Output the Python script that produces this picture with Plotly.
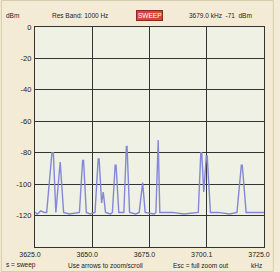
import plotly.graph_objects as go

# Spectrum trace (kHz, dBm)
freq_khz = [3625.0, 3626.0, 3627.5, 3629.0,
            3630.1, 3632.4, 3633.0, 3634.1,
            3636.0, 3637.5,
            3640.0, 3643.0,
            3644.4, 3645.8, 3646.2, 3647.4,
            3649.0,
            3651.2, 3652.6, 3653.0, 3654.1, 3654.8, 3655.8,
            3658.0,
            3658.8, 3660.0, 3660.4, 3661.6,
            3663.0,
            3663.8, 3664.9, 3665.2, 3666.3,
            3669.0,
            3670.5, 3671.7, 3672.0, 3673.1,
            3677.0,
            3677.8, 3678.5, 3678.8, 3679.5,
            3685.0, 3690.0,
            3696.3, 3697.4, 3697.8, 3698.7, 3699.8, 3700.2, 3701.6,
            3705.0, 3710.0,
            3713.2, 3715.1, 3715.5, 3717.2,
            3720.0, 3725.0]
power_dbm = [-118, -119, -117, -118,
             -118, -80, -80, -118,
             -86, -118,
             -119, -118,
             -118, -85, -85, -118,
             -119,
             -118, -84, -84, -112, -105, -118,
             -119,
             -118, -88, -88, -118,
             -118,
             -118, -76, -76, -118,
             -119,
             -118, -99, -99, -118,
             -119,
             -118, -72, -72, -118,
             -118, -119,
             -118, -80, -80, -105, -82, -82, -118,
             -118, -119,
             -118, -88, -88, -118,
             -118, -118]

x_tick_vals = [3625, 3650, 3675, 3700, 3725]
x_tick_text = ["3625.0", "3650.0", "3675.0", "3700.1", "3725.0"]
y_tick_vals = [0, -20, -40, -60, -80, -100, -120]
y_tick_text = ["0", "-20", "-40", "-60", "-80", "-100", "-120"]

FONT = "Liberation Sans Narrow, Arial Narrow, Liberation Sans, sans-serif"
W, H = 280, 272
L, R, T, B = 35, 10, 27, 25

def px(xp):
    return (xp - L) / (W - L - R)

def py(yp):
    return 1 - (yp - T) / (H - T - B)

fig = go.Figure()
fig.add_trace(go.Scatter(x=freq_khz, y=power_dbm, mode="lines",
                         line=dict(color="#8588d8", width=1.4),
                         hoverinfo="skip", showlegend=False))

ann = []
def txt(xp, yp, s, anchor="left", size=6.5, color="#222222"):
    ann.append(dict(x=px(xp), y=py(yp), xref="paper", yref="paper", text=s,
                    showarrow=False, xanchor=anchor, yanchor="middle",
                    font=dict(family=FONT, size=size, color=color)))

txt(3, 15, "dBm")
txt(50, 15, "Res Band: 1000 Hz")
txt(191, 15, "3679.0 kHz  -71  dBm")
ann.append(dict(x=px(152), y=py(15), xref="paper", yref="paper", text="SWEEP",
                showarrow=False, xanchor="center", yanchor="middle",
                bgcolor="#d8443e", bordercolor="#8a2a20", borderwidth=1,
                borderpad=1, font=dict(family=FONT, size=6.5, color="#ffffff")))
txt(3, 265, "s = sweep")
txt(67, 265, "Use arrows to zoom/scroll")
txt(175, 265, "Esc = full zoom out")
txt(255, 265, "kHz")

fig.update_layout(
    width=W, height=H,
    margin=dict(l=L, r=R, t=T, b=B),
    paper_bgcolor="#f3ebd6",
    plot_bgcolor="#eef1e4",
    font=dict(family=FONT, size=7, color="#222222"),
    annotations=ann,
    xaxis=dict(range=[3625, 3725], tickvals=x_tick_vals, ticktext=x_tick_text,
               showgrid=True, gridcolor="#333333", gridwidth=1.3,
               showline=True, linecolor="#333333", linewidth=1.3, mirror=True,
               zeroline=False, ticks="", ticklabelshift=-5, ticklabelstandoff=0,
               tickfont=dict(family=FONT, size=7)),
    yaxis=dict(range=[-140, 0], tickvals=y_tick_vals, ticktext=y_tick_text,
               showgrid=True, gridcolor="#333333", gridwidth=1.3,
               showline=True, linecolor="#333333", linewidth=1.3, mirror=True,
               zeroline=False, ticks="", ticklabelstandoff=1,
               tickfont=dict(family=FONT, size=7.5)),
    shapes=[dict(type="rect", xref="paper", yref="paper",
                 x0=px(0.5), x1=px(W - 0.5), y0=py(0.5), y1=py(H - 0.5),
                 line=dict(color="#d8ccae", width=1))],
)

fig.write_html("out.html", config={"displayModeBar": False},
               post_script="document.body.style.margin='0';document.body.style.overflow='hidden';")
